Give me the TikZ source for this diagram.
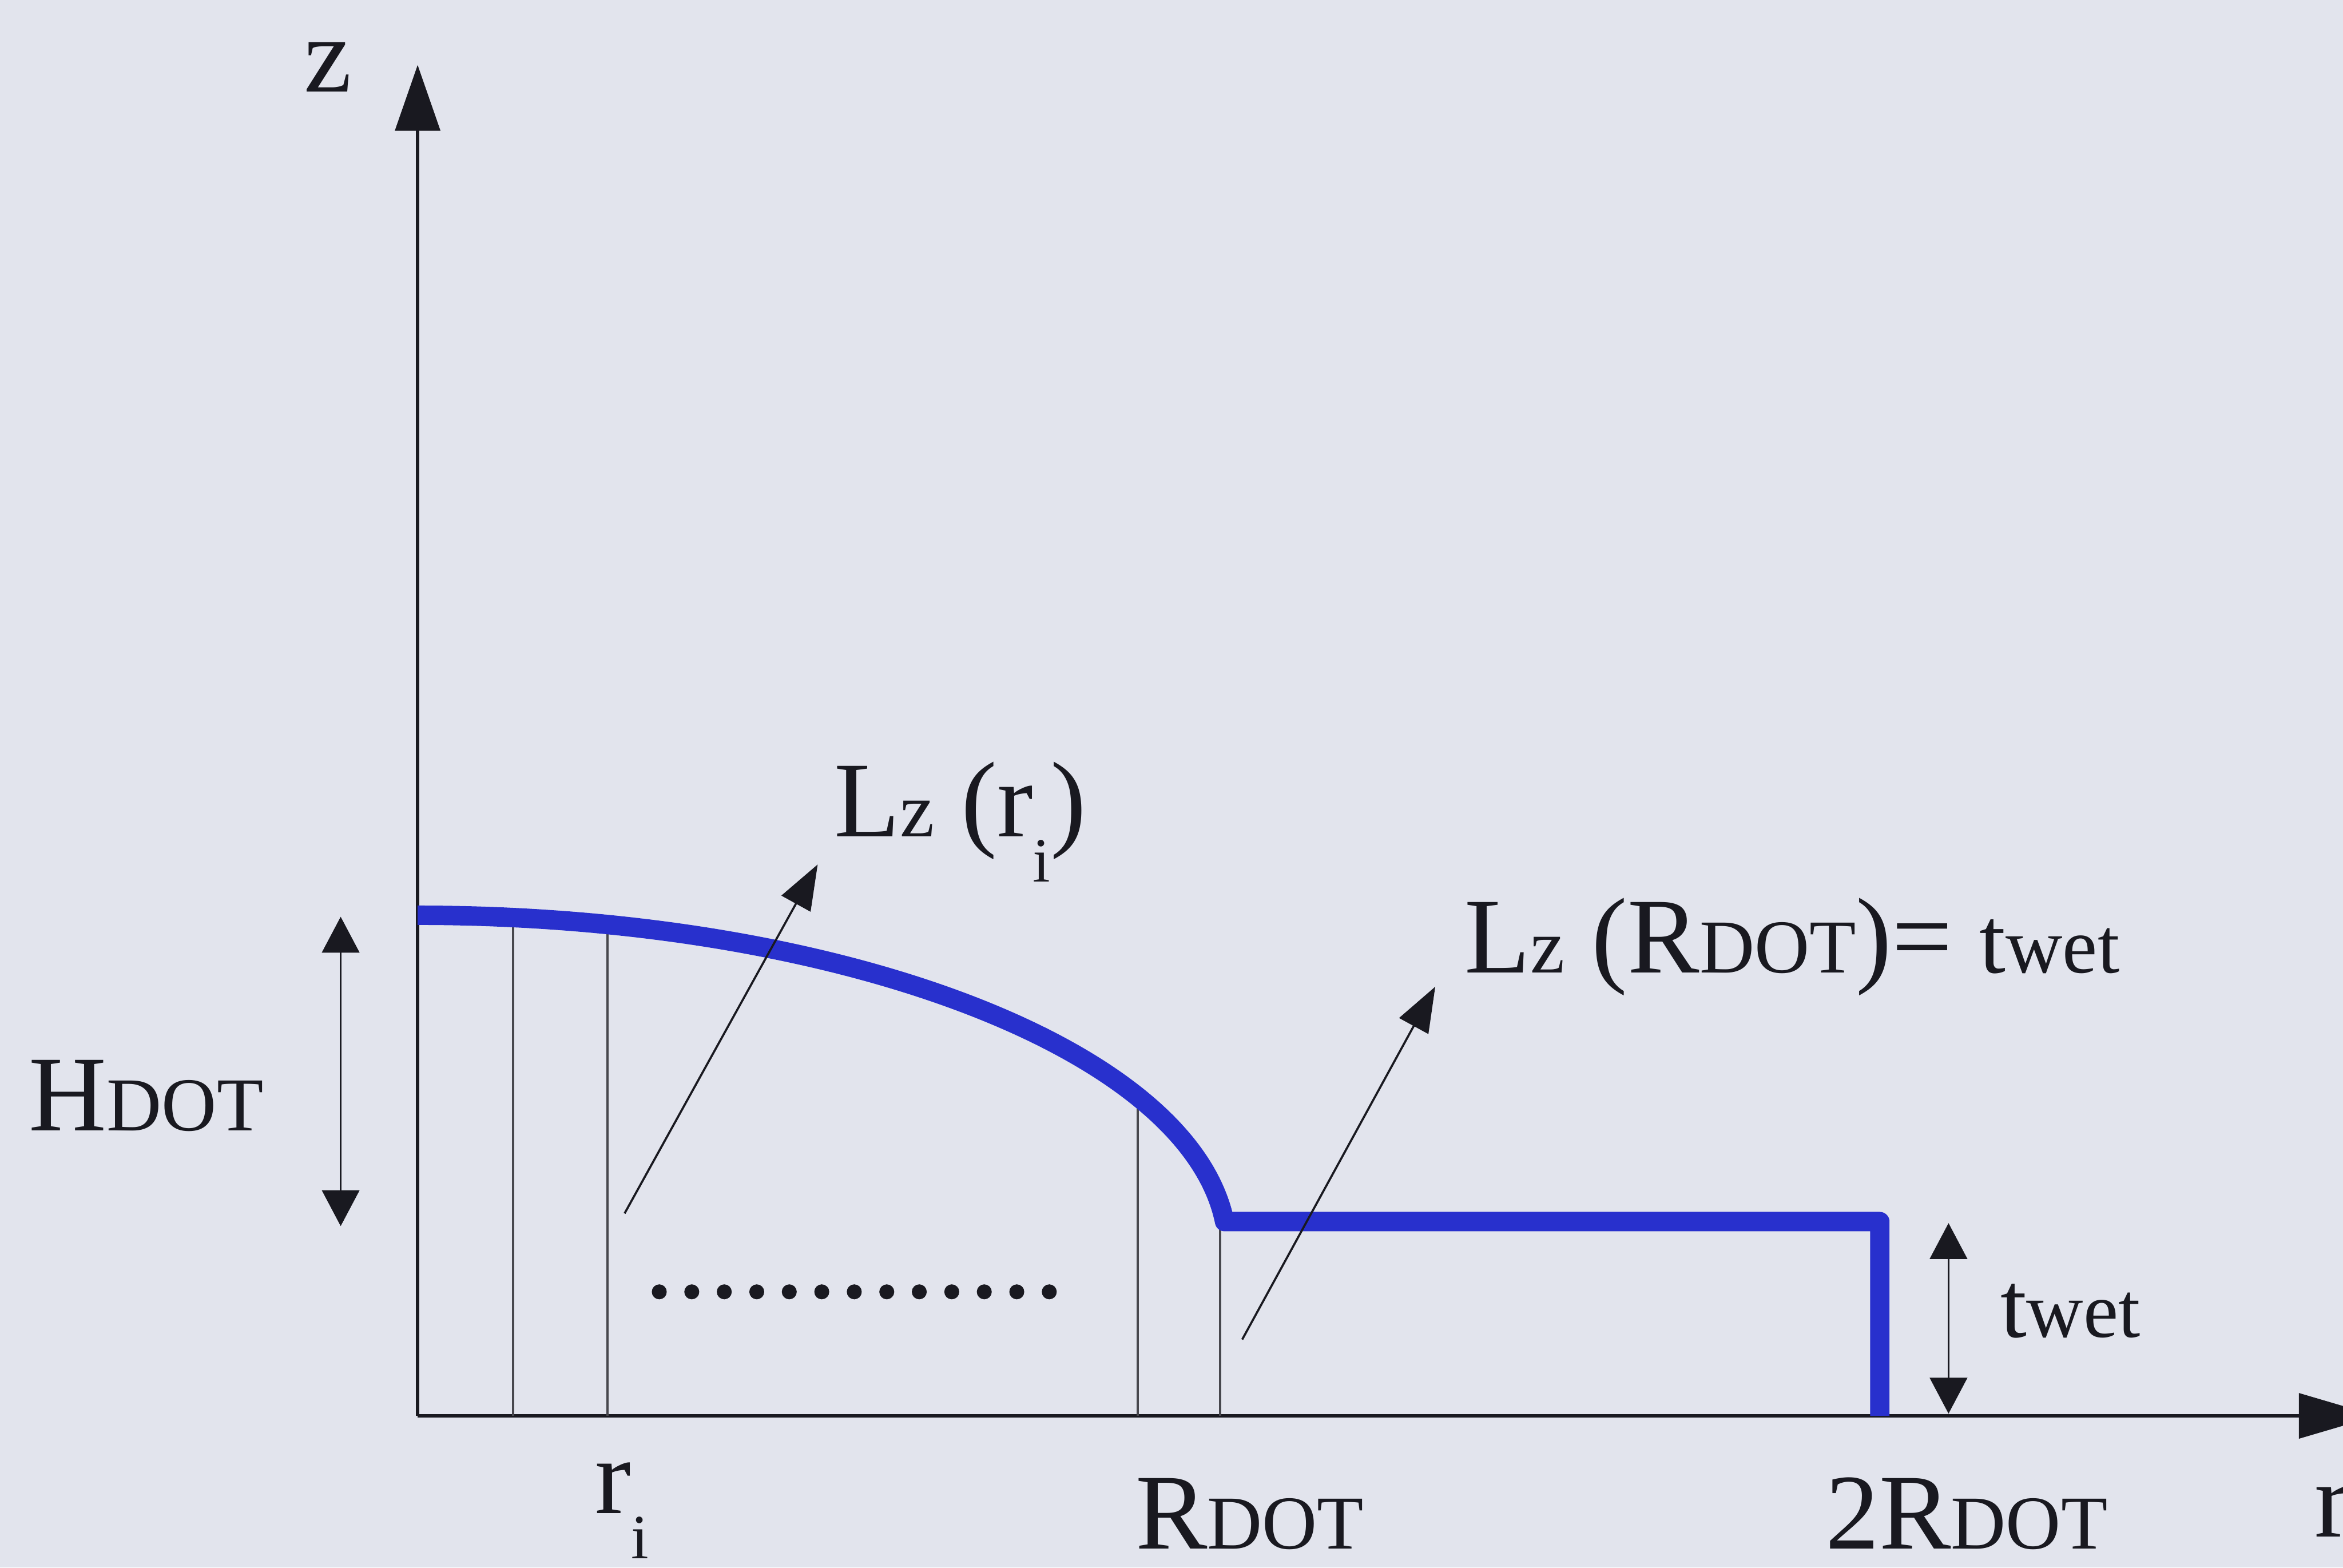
\documentclass[tikz,border=0pt]{standalone}
\usepackage{fontspec}
\setmainfont{Liberation Serif}
\usetikzlibrary{arrows.meta}

\definecolor{bgpaper}{RGB}{226,228,237}
\definecolor{dotblue}{RGB}{40,48,205}
\definecolor{inkdark}{RGB}{25,25,32}

\newcommand{\capsm}[1]{{\fontsize{14.5}{16}\selectfont #1}}
\newcommand{\lowidx}[1]{\raisebox{-0.30cm}{\fontsize{12}{14}\selectfont #1}}
\newcommand{\Lzed}{L{\fontsize{14.8}{16}\selectfont z}}
\newcommand{\twet}{{\fontsize{18}{20}\selectfont t}{\fontsize{15}{17}\selectfont wet}}

\begin{document}
\begin{tikzpicture}[
  lbl/.style     = {inner sep=0pt, text=inkdark, font=\fontsize{20.5}{24}\selectfont},
  axis/.style    = {line width=0.6pt, draw=inkdark},
  ruler/.style   = {line width=0.4pt, draw=inkdark!80},
  dimarr/.style  = {line width=0.4pt, draw=inkdark,
                    {Triangle[length=2.4mm,width=2.5mm]}-{Triangle[length=2.4mm,width=2.5mm]}},
  ptr/.style     = {line width=0.4pt, draw=inkdark, -{Triangle[length=3mm,width=2.2mm]}},
  profile/.style = {draw=dotblue, line width=3.7pt, line join=round},
]

%% Background, also fixes the margins
\path[use as bounding box, fill=bgpaper] (-2.795,-1.015) rectangle (12.885,9.475);

%% Axes
\coordinate (O)    at (0,0);
\coordinate (ztip) at (0,9.04);
\coordinate (rtip) at (13.11,0);
\draw[axis, -{Triangle[length=4.4mm,width=3mm]}] (O) -- (ztip);
\draw[axis, -{Triangle[length=5.2mm,width=3mm]}] (O) -- (rtip);

%% Thin slices under the profile
\foreach \xr in {0.64,1.27,4.82}
  \draw[ruler] (\xr,0) -- (\xr,{1.11+2.24*sqrt(1-(\xr/5.42)^2)});
\draw[ruler] (5.37,0) -- (5.37,1.30);

%% Dot profile + wetting layer
\draw[profile] (0,3.35) arc[start angle=90, end angle=4.87, x radius=5.42, y radius=2.24]
               -- (9.785,1.30) -- (9.785,0);

%% Row of dots
\foreach \k in {0,...,12}
  \fill[inkdark] ({1.617+0.2175*\k},0.83) circle (0.05);

%% Height arrows
\coordinate (htop) at (-0.515,3.34);
\coordinate (hbot) at (-0.515,1.27);
\draw[dimarr] (hbot) -- (htop);
\coordinate (ttop) at (10.245,1.29);
\coordinate (tbot) at (10.245,0.015);
\draw[dimarr] (tbot) -- (ttop);

%% Labels
\node[lbl, anchor=base]      (zlab)  at (-0.60,8.86)   {z};
\node[lbl, anchor=base west] (rlab)  at (12.69,-0.81)  {r};
\node[lbl, anchor=base west] (hdot)  at (-2.607,1.91)  {H\capsm{DOT}};
\node[lbl, anchor=base west] (ri)    at (1.183,-0.653) {r\lowidx{i}};
\node[lbl, anchor=base]      (rdot)  at (5.568,-0.89)  {R\capsm{DOT}};
\node[lbl, anchor=base]      (rdot2) at (10.365,-0.89) {2R\capsm{DOT}};
\node[lbl, anchor=base west] (twlab) at (10.585,0.525) {\twet};
\node[lbl, anchor=base west] (lzri)  at (2.78,3.875)   {\Lzed\ (r\lowidx{i})};
\node[lbl, anchor=base west] (lzrd)  at (7.0,2.965)    {\Lzed\ (R\capsm{DOT})= \twet};

%% Pointers to the L_z labels
\coordinate (pA)    at (1.385,1.355);
\coordinate (pAtip) at (2.677,3.69);
\draw[ptr] (pA) -- (pAtip);
\coordinate (pB)    at (5.518,0.511);
\coordinate (pBtip) at (6.81,2.872);
\draw[ptr] (pB) -- (pBtip);

\end{tikzpicture}
\end{document}
